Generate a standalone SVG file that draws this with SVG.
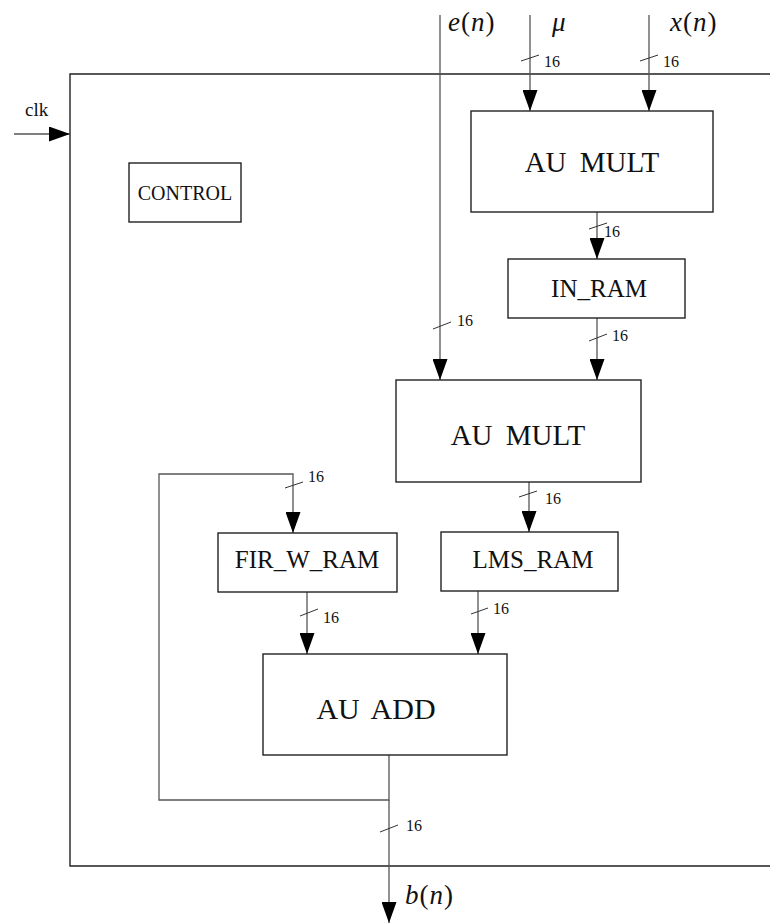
<svg xmlns="http://www.w3.org/2000/svg" width="770" height="923" viewBox="0 0 770 923">
<style>
.box{fill:#fff;stroke:#222;stroke-width:1.4}
.ln{fill:none;stroke:#555;stroke-width:1.3}
.tk{fill:none;stroke:#333;stroke-width:1}
.lbl{font-family:"Liberation Serif",serif;fill:#111}
.n16{font-family:"Liberation Serif",serif;font-size:16px;fill:#111}
.m{font-family:"Liberation Serif",serif;font-size:27px;fill:#111}
.it{font-style:italic}
</style>
<defs>
<marker id="ah" markerWidth="21" markerHeight="15" refX="21" refY="7.5" orient="auto" markerUnits="userSpaceOnUse" viewBox="0 0 21 15">
<path d="M0,0 L21,7.5 L0,15 Z" fill="#000"/>
</marker>
</defs>
<rect width="770" height="923" fill="#fff"/>
<g id="frame">
<path class="box" d="M770,74 L70,74 L70,866 L770,866" fill="none"/>
</g>
<g id="connectors">
<line class="ln" x1="14" y1="134" x2="70" y2="134" marker-end="url(#ah)"/>
<line class="ln" x1="440" y1="15" x2="440" y2="380" marker-end="url(#ah)"/>
<line class="ln" x1="530" y1="15" x2="530" y2="111" marker-end="url(#ah)"/>
<line class="ln" x1="649" y1="15" x2="649" y2="111" marker-end="url(#ah)"/>
<line class="ln" x1="597" y1="212" x2="597" y2="259" marker-end="url(#ah)"/>
<line class="ln" x1="597" y1="318" x2="597" y2="380" marker-end="url(#ah)"/>
<line class="ln" x1="529" y1="482" x2="529" y2="532" marker-end="url(#ah)"/>
<line class="ln" x1="307" y1="592" x2="307" y2="654" marker-end="url(#ah)"/>
<line class="ln" x1="478" y1="591" x2="478" y2="654" marker-end="url(#ah)"/>
<path class="ln" d="M389,755 L389,800 L159,800 L159,474 L293,474 L293,533" marker-end="url(#ah)"/>
<line class="ln" x1="389" y1="800" x2="389" y2="923" marker-end="url(#ah)"/>
<line class="tk" x1="521" y1="61" x2="539" y2="55"/>
<line class="tk" x1="640" y1="61" x2="658" y2="55"/>
<line class="tk" x1="589" y1="229" x2="607" y2="223"/>
<line class="tk" x1="433" y1="329" x2="451" y2="322"/>
<line class="tk" x1="589" y1="341" x2="607" y2="334"/>
<line class="tk" x1="285" y1="488" x2="303" y2="482"/>
<line class="tk" x1="519" y1="497" x2="537" y2="491"/>
<line class="tk" x1="300" y1="616" x2="318" y2="609"/>
<line class="tk" x1="471" y1="614" x2="488" y2="608"/>
<line class="tk" x1="380" y1="832" x2="398" y2="825"/>
<text class="n16" x="544" y="67">16</text>
<text class="n16" x="663" y="67">16</text>
<text class="n16" x="604" y="237">16</text>
<text class="n16" x="457" y="326">16</text>
<text class="n16" x="612" y="341">16</text>
<text class="n16" x="308" y="482">16</text>
<text class="n16" x="545" y="504">16</text>
<text class="n16" x="323" y="623">16</text>
<text class="n16" x="493" y="614">16</text>
<text class="n16" x="406" y="831">16</text>
<text class="lbl" x="25" y="116" font-size="19">clk</text>
<text class="m" x="448" y="31" letter-spacing="1"><tspan class="it">e</tspan>(<tspan class="it">n</tspan>)</text>
<text class="m" x="552" y="31"><tspan class="it">μ</tspan></text>
<text class="m" x="670" y="31" letter-spacing="1"><tspan class="it">x</tspan>(<tspan class="it">n</tspan>)</text>
<text class="m" x="405" y="904" letter-spacing="1"><tspan class="it">b</tspan>(<tspan class="it">n</tspan>)</text>
</g>
<g id="control">
<rect class="box" x="129" y="163" width="112" height="59"/>
<text class="lbl" x="185" y="200" font-size="20" text-anchor="middle">CONTROL</text>
</g>
<g id="au_mult1">
<rect class="box" x="471" y="111" width="242" height="101"/>
<text class="lbl" x="592" y="172" font-size="29" text-anchor="middle" word-spacing="6">AU MULT</text>
</g>
<g id="in_ram">
<rect class="box" x="508" y="259" width="177" height="59"/>
<text class="lbl" x="599" y="297" font-size="25" text-anchor="middle">IN_RAM</text>
</g>
<g id="au_mult2">
<rect class="box" x="396" y="380" width="245" height="102"/>
<text class="lbl" x="518" y="445" font-size="29" text-anchor="middle" word-spacing="6">AU MULT</text>
</g>
<g id="fir_w_ram">
<rect class="box" x="218" y="533" width="179" height="59"/>
<text class="lbl" x="307" y="568" font-size="25" text-anchor="middle">FIR_W_RAM</text>
</g>
<g id="lms_ram">
<rect class="box" x="441" y="532" width="177" height="59"/>
<text class="lbl" x="533" y="568" font-size="25" text-anchor="middle">LMS_RAM</text>
</g>
<g id="au_add">
<rect class="box" x="263" y="654" width="244" height="101"/>
<text class="lbl" x="376" y="719" font-size="30" text-anchor="middle" word-spacing="5">AU ADD</text>
</g>
</svg>
